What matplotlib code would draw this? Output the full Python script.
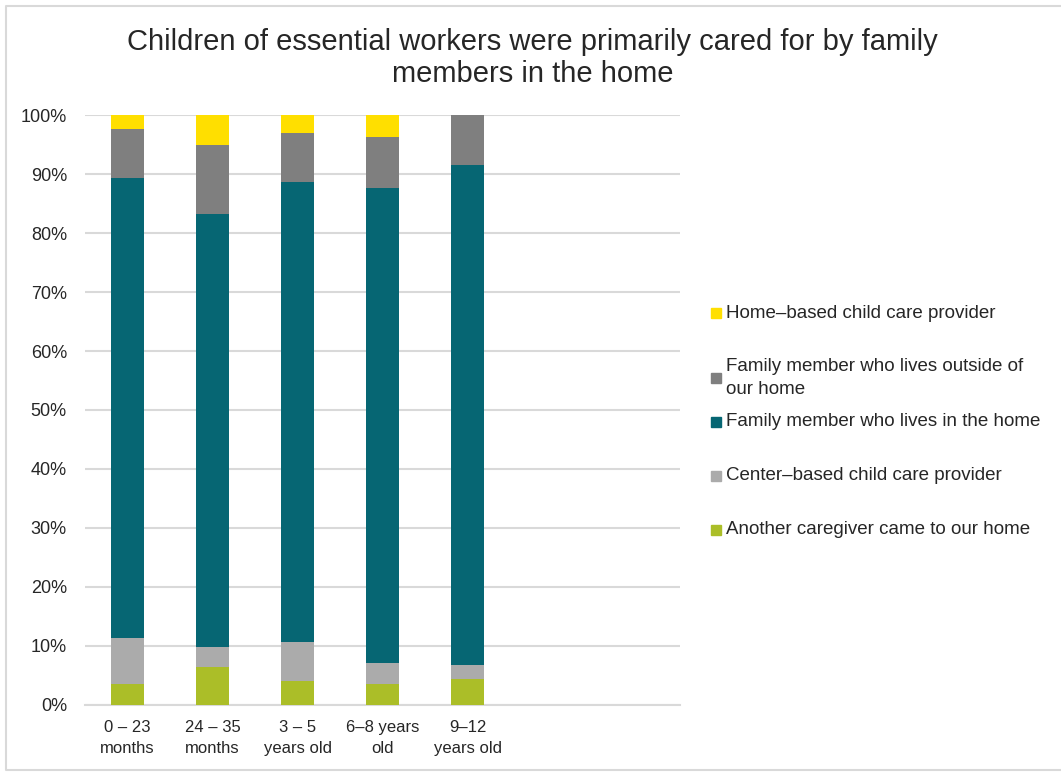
import numpy as np
import matplotlib.pyplot as plt
from matplotlib.lines import Line2D

plt.rcParams['font.family'] = ['Liberation Sans', 'DejaVu Sans']

categories = ["0 – 23\nmonths", "24 – 35\nmonths", "3 – 5\nyears old", "6–8 years\nold", "9–12\nyears old"]

# bottom to top
series = [
    "Another caregiver came to our home",
    "Center–based child care provider",
    "Family member who lives in the home",
    "Family member who lives outside of\nour home",
    "Home–based child care provider",
]
another = [3.5, 6.5, 4.0, 3.5, 4.4]
center = [7.9, 3.4, 6.6, 3.6, 2.3]
family_in = [78.0, 73.4, 78.0, 80.6, 84.9]
family_out = [8.2, 11.7, 8.3, 8.5, 8.4]
home_based = [2.4, 5.0, 3.1, 3.8, 0.0]
values = [another, center, family_in, family_out, home_based]
colors = ["#abbe28", "#ababab", "#066673", "#7f7f7f", "#ffdf00"]

fig = plt.figure(figsize=(10.61, 7.73), dpi=100)
ax = fig.add_axes([0.0801, 0.0880, 0.5609, 0.7632])

x = np.arange(len(categories))
bottom = np.zeros(len(categories))
for vals, col in zip(values, colors):
    ax.bar(x, vals, 0.39, bottom=bottom, color=col, zorder=3)
    bottom += np.array(vals)

ax.set_xlim(-0.5, 6.5)
ax.set_ylim(0, 100)
ax.set_yticks(np.arange(0, 101, 10))
ax.set_yticklabels([f"{v}%" for v in range(0, 101, 10)])
ax.set_xticks(x)
ax.set_xticklabels(categories, linespacing=1.5)
ax.tick_params(axis='y', length=0, pad=13, labelsize=13, labelcolor="#262626")
ax.tick_params(axis='x', length=0, pad=11, labelsize=12, labelcolor="#262626")
ax.grid(axis='y', color="#d9d9d9", linewidth=1.5, zorder=0)
for s in ['top', 'right', 'left']:
    ax.spines[s].set_visible(False)
ax.spines['bottom'].set_color("#d9d9d9")
ax.spines['bottom'].set_linewidth(1.5)

fig.text(0.502, 0.925, "Children of essential workers were primarily cared for by family\nmembers in the home",
         ha='center', va='center', fontsize=21, color="#262626", linespacing=1.15)

# legend, top to bottom
leg_y = [313, 378, 422, 476, 530]
for name, col, yy in zip(series[::-1], colors[::-1], leg_y):
    yf = 1 - yy / 773
    fig.lines.append(Line2D([715.5 / 1061], [yf], marker='s', markersize=6.5, color=col,
                            linestyle='none', transform=fig.transFigure))
    fig.text(726 / 1061, yf, name, ha='left', va='center', fontsize=13.5,
             color="#262626", linespacing=1.4)

# outer frame: top, left, bottom (right edge is cut off)
x0, x1 = 6 / 1061, 1.0
y0, y1 = 1 - 770 / 773, 1 - 6 / 773
fig.lines.append(Line2D([x1, x0, x0, x1], [y1, y1, y0, y0], color="#d9d9d9", linewidth=1.5,
                        transform=fig.transFigure))

fig.savefig("out.png", dpi=100)
